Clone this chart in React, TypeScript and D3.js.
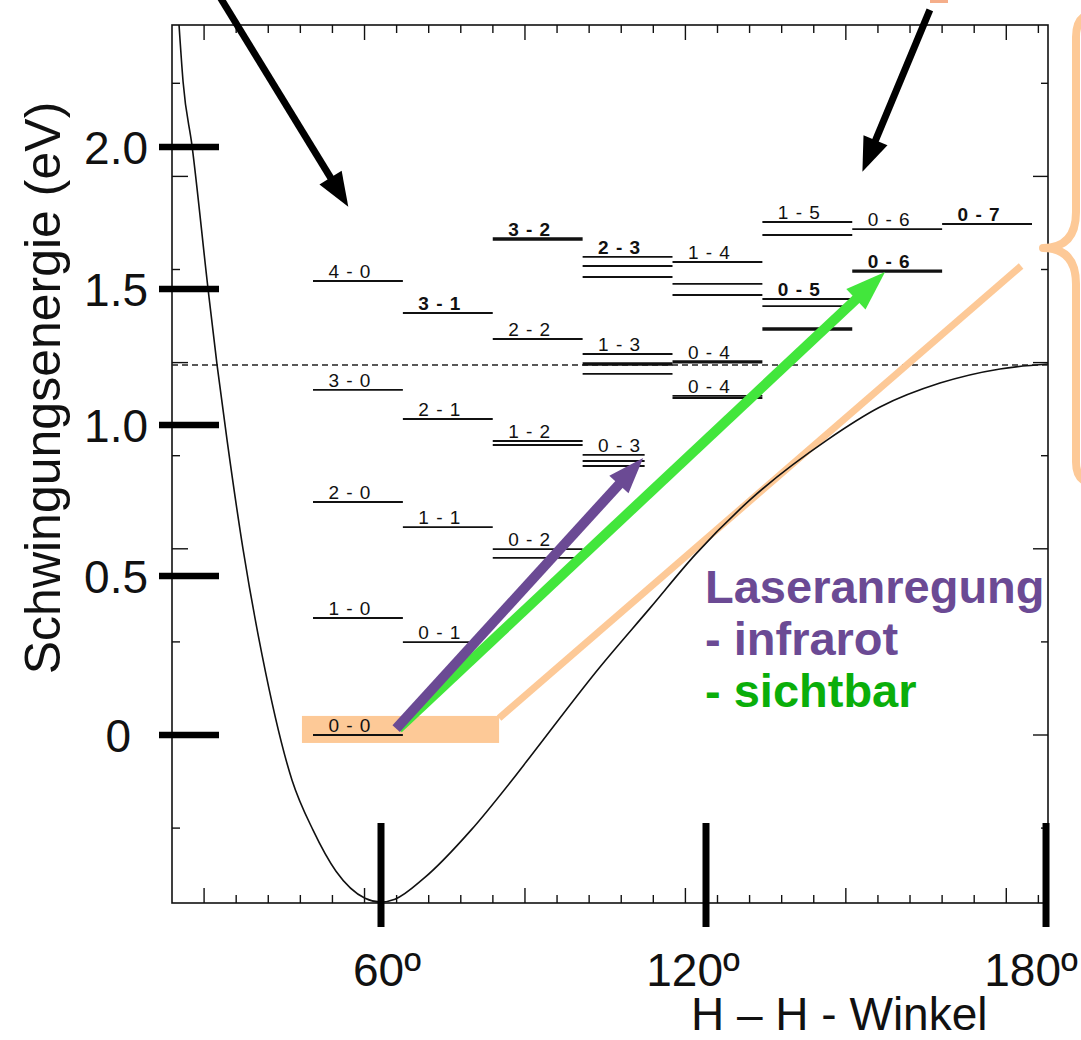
import React from "react";
import * as d3 from "d3";

const W = 1081;
const H = 1040;

// ---- axis anchors (degrees / eV) ----
const xAnchorsDeg = [21.4, 60, 120, 180.35];
const yAnchorsEV = [-0.528, 0, 0.5, 1, 1.5, 2, 2.43];

const xTickValues = [60, 120, 180];
const xTickLabels = ["60º", "120º", "180º"];
const yTickValues = [0, 0.5, 1, 1.5, 2];
const yTickLabels = ["0", "0.5", "1.0", "1.5", "2.0"];

// ---- potential curve ----
const curveAngle = [22.7, 23.45, 25.1, 28.06, 29.72, 31.57, 34.52, 38.03, 43.57, 47.45, 51.69, 57.05, 60, 62.58, 67.94, 76.62, 84.18, 87.51, 100.43, 109.66, 117.97, 127.76, 141.35, 150.71, 161.29, 171.88, 180.35];
const curveEnergy = [2.43, 2.229, 2.004, 1.5, 1.221, 0.95, 0.589, 0.252, -0.142, -0.299, -0.428, -0.513, -0.525, -0.516, -0.45, -0.299, -0.142, -0.069, 0.214, 0.399, 0.57, 0.752, 0.95, 1.066, 1.154, 1.206, 1.224];

const dissociationEnergy = 1.221;

// ---- vibrational levels ----
const columns = [0, 1, 2, 3, 4, 5, 6, 7];
const groupLabels = ["4 - 0", "3 - 0", "2 - 0", "1 - 0", "0 - 0", "3 - 1", "2 - 1", "1 - 1", "0 - 1", "3 - 2", "2 - 2", "1 - 2", "0 - 2", "2 - 3", "1 - 3", "0 - 3", "1 - 4", "0 - 4", "0 - 4", "1 - 5", "0 - 5", "0 - 6", "0 - 6", "0 - 7"];
const groupColumn = [0, 0, 0, 0, 0, 1, 1, 1, 1, 2, 2, 2, 2, 3, 3, 3, 4, 4, 4, 5, 5, 6, 6, 7];
const groupLevels = [
  [1.528], [1.129], [0.745], [0.368], [0.0],
  [1.412], [1.022], [0.662], [0.292],
  [1.676], [1.316], [0.947, 0.934], [0.589, 0.56],
  [1.613, 1.581, 1.542], [1.261, 1.224, 1.188], [0.901, 0.881, 0.864],
  [1.595, 1.518, 1.478], [1.232], [1.107, 1.099],
  [1.736, 1.69], [1.463, 1.437, 1.353],
  [1.711], [1.563],
  [1.729],
];
const boldGroups = [5, 9, 13, 20, 22, 23];
const heavyLevels = [1.676, 1.224, 1.232, 1.353, 1.563];
const partialGroups = [8, 15];
const partialFraction = [0.74, 0.69];

// ---- annotations (degrees, eV) ----
const pointerFrom = [[30.02, 2.536], [159.5, 2.483]];
const pointerTo = [[53.96, 1.79], [147.6, 1.913]];
const groundBand = [[45.4, 81.8], [-0.025, 0.06]];
const orangeLineFrom = [81.8, 0.053];
const orangeLineTo = [175.6, 1.581];
const irFrom = [62.8, 0.02];
const irTo = [108.4, 0.891];
const visFrom = [63.2, 0.02];
const visTo = [151.6, 1.56];

const SANS = "'Liberation Sans', Arial, Helvetica, sans-serif";
const PEACH = "#fdc997";
const PURPLE = "#6b4a94";
const GREEN = "#42e63c";
const GREEN_TEXT = "#0aae0a";

function Arrow({ x1, y1, x2, y2, w, headLen, headW, color }: any) {
  const dx = x2 - x1, dy = y2 - y1;
  const L = Math.hypot(dx, dy);
  const ux = dx / L, uy = dy / L;
  const px = -uy, py = ux;
  const bx = x2 - ux * headLen, by = y2 - uy * headLen;
  const pts = [
    [x2, y2],
    [bx + (px * headW) / 2, by + (py * headW) / 2],
    [bx - (px * headW) / 2, by - (py * headW) / 2],
  ];
  return (
    <g>
      <line x1={x1} y1={y1} x2={bx + ux * 3} y2={by + uy * 3} stroke={color} strokeWidth={w} />
      <polygon points={pts.map((p) => p.join(",")).join(" ")} fill={color} />
    </g>
  );
}

export default function App() {
  const left = 172, right = 1048, top = 25, bottom = 903;
  const x = d3.scaleLinear().domain(xAnchorsDeg).range([left, 381, 706, right]);
  const y = d3.scaleLinear().domain(yAnchorsEV).range([bottom, 735, 576, 425, 289, 147, top]);
  const col = d3.scaleBand<number>().domain(columns).range([313, 1032]);
  const rawX = d3.scaleLinear().domain([0, 27.3]).range([left, right]);
  const rawY = d3.scaleLinear().domain([0, 1]).range([735, 641.9]);

  const curvePts = curveAngle.map((a, i) => [a, curveEnergy[i]] as [number, number]);
  const line = d3
    .line<[number, number]>()
    .x((d) => x(d[0]))
    .y((d) => y(d[1]))
    .curve(d3.curveMonotoneX);

  const xFrameTicks = d3.range(1, 28);
  const yFrameTicks = d3.range(-1, 8);

  const xLabelDx = [6, -13, -15];
  const yLabelDx = [-17, 0, 0, 0, 0];

  // brace
  const cuspY = y(1.644);
  const braceX = 1076;
  const braceD = `M 1098 ${top - 12} Q ${braceX} ${top - 12} ${braceX} ${top + 12} L ${braceX} ${cuspY - 36} Q ${braceX} ${cuspY} 1043 ${cuspY} Q ${braceX} ${cuspY} ${braceX} ${cuspY + 36} L ${braceX} 462 Q ${braceX} 484 1098 484`;

  return (
    <svg
      width={W}
      height={H}
      viewBox={`0 0 ${W} ${H}`}
      style={{ position: "absolute", left: 0, top: 0, background: "#fff" }}
    >
      <defs>
        <clipPath id="frameClip">
          <rect x={left} y={top} width={right - left} height={bottom - top} />
        </clipPath>
      </defs>
      <rect x={0} y={0} width={W} height={H} fill="#fff" />

      {/* top orange fragment */}
      <rect x={930} y={0} width={18} height={3} fill="#f5ae8a" />

      {/* frame */}
      <rect x={left} y={top} width={right - left} height={bottom - top} fill="none" stroke="#111" strokeWidth={1.6} />
      {xFrameTicks.map((k) => {
        const long = (k - 1) % 5 === 0;
        const xx = rawX(k);
        return (
          <g key={"xt" + k}>
            <line x1={xx} x2={xx} y1={top} y2={top + (long ? 15 : 8)} stroke="#111" strokeWidth={1.4} />
            <line x1={xx} x2={xx} y1={bottom} y2={bottom - (long ? 15 : 8)} stroke="#111" strokeWidth={1.4} />
          </g>
        );
      })}
      {yFrameTicks.map((k) => {
        const long = k % 2 === 0;
        const yy = rawY(k);
        return (
          <g key={"yt" + k}>
            <line x1={left} x2={left + (long ? 16 : 8)} y1={yy} y2={yy} stroke="#111" strokeWidth={1.4} />
            <line x1={right} x2={right - (long ? 15 : 7)} y1={yy} y2={yy} stroke="#111" strokeWidth={1.4} />
          </g>
        );
      })}

      {/* dissociation limit */}
      <line
        x1={left}
        x2={right}
        y1={y(dissociationEnergy)}
        y2={y(dissociationEnergy)}
        stroke="#222"
        strokeWidth={1.5}
        strokeDasharray="6,4"
      />

      {/* ground state highlight + orange line */}
      <rect
        x={x(groundBand[0][0])}
        y={y(groundBand[1][1])}
        width={x(groundBand[0][1]) - x(groundBand[0][0])}
        height={y(groundBand[1][0]) - y(groundBand[1][1])}
        fill={PEACH}
      />
      <line
        x1={x(orangeLineFrom[0])}
        y1={y(orangeLineFrom[1])}
        x2={x(orangeLineTo[0])}
        y2={y(orangeLineTo[1])}
        stroke={PEACH}
        strokeWidth={7}
      />

      {/* potential curve */}
      <path d={line(curvePts) || ""} fill="none" stroke="#111" strokeWidth={1.6} clipPath="url(#frameClip)" />

      {/* levels */}
      {groupLabels.map((lab, gi) => {
        const c = groupColumn[gi];
        const x0 = col(c)!;
        const pIdx = partialGroups.indexOf(gi);
        const width = col.bandwidth() * (pIdx >= 0 ? partialFraction[pIdx] : 1);
        const lv = groupLevels[gi];
        const topE = Math.max(...lv);
        const bold = boldGroups.includes(gi);
        return (
          <g key={"g" + gi}>
            {lv.map((e, li) => (
              <line
                key={li}
                x1={x0}
                x2={x0 + width}
                y1={y(e)}
                y2={y(e)}
                stroke="#111"
                strokeWidth={heavyLevels.includes(e) ? 3.4 : 1.9}
              />
            ))}
            <text
              x={x0 + col.bandwidth() / 2 - 8}
              y={y(topE) - 3}
              textAnchor="middle"
              fontFamily={SANS}
              fontSize={19}
              letterSpacing={1}
              fontWeight={bold ? "bold" : "normal"}
              fill="#111"
            >
              {lab}
            </text>
          </g>
        );
      })}

      {/* brace */}
      <path d={braceD} fill="none" stroke={PEACH} strokeWidth={8} strokeLinecap="round" strokeLinejoin="round" />

      {/* laser arrows */}
      <Arrow x1={x(visFrom[0])} y1={y(visFrom[1])} x2={x(visTo[0])} y2={y(visTo[1])} w={10} headLen={40} headW={28} color={GREEN} />
      <Arrow x1={x(irFrom[0])} y1={y(irFrom[1])} x2={x(irTo[0])} y2={y(irTo[1])} w={10} headLen={36} headW={26} color={PURPLE} />

      {/* pointer arrows */}
      {pointerFrom.map((f, i) => (
        <Arrow
          key={"pa" + i}
          x1={x(f[0])}
          y1={y(f[1])}
          x2={x(pointerTo[i][0])}
          y2={y(pointerTo[i][1])}
          w={7}
          headLen={34}
          headW={26}
          color="#000"
        />
      ))}

      {/* overlay axis ticks */}
      {yTickValues.map((v, i) => (
        <g key={"yo" + i}>
          <line x1={159} x2={219} y1={y(v)} y2={y(v)} stroke="#000" strokeWidth={6.5} />
          <text
            x={148 + yLabelDx[i]}
            y={y(v) + 16.5}
            textAnchor="end"
            fontFamily={SANS}
            fontSize={46}
            fill="#111"
          >
            {yTickLabels[i]}
          </text>
        </g>
      ))}
      {xTickValues.map((v, i) => (
        <g key={"xo" + i}>
          <line x1={x(v)} x2={x(v)} y1={823} y2={927} stroke="#000" strokeWidth={7} />
          <text x={x(v) + xLabelDx[i]} y={986} textAnchor="middle" fontFamily={SANS} fontSize={46} fill="#111">
            {xTickLabels[i]}
          </text>
        </g>
      ))}

      {/* axis titles */}
      <text x={691} y={1030} fontFamily={SANS} fontSize={46} fill="#111">
        H – H - Winkel
      </text>
      <text
        transform="translate(60,388) rotate(-90)"
        textAnchor="middle"
        fontFamily={SANS}
        fontSize={50}
        fill="#111"
      >
        Schwingungsenergie (eV)
      </text>

      {/* legend text */}
      <g fontFamily={SANS} fontWeight="bold" fontSize={47}>
        <text x={705} y={603} fill={PURPLE}>Laseranregung</text>
        <text x={705} y={655} fill={PURPLE}>- infrarot</text>
        <text x={705} y={707} fill={GREEN_TEXT}>- sichtbar</text>
      </g>
    </svg>
  );
}
